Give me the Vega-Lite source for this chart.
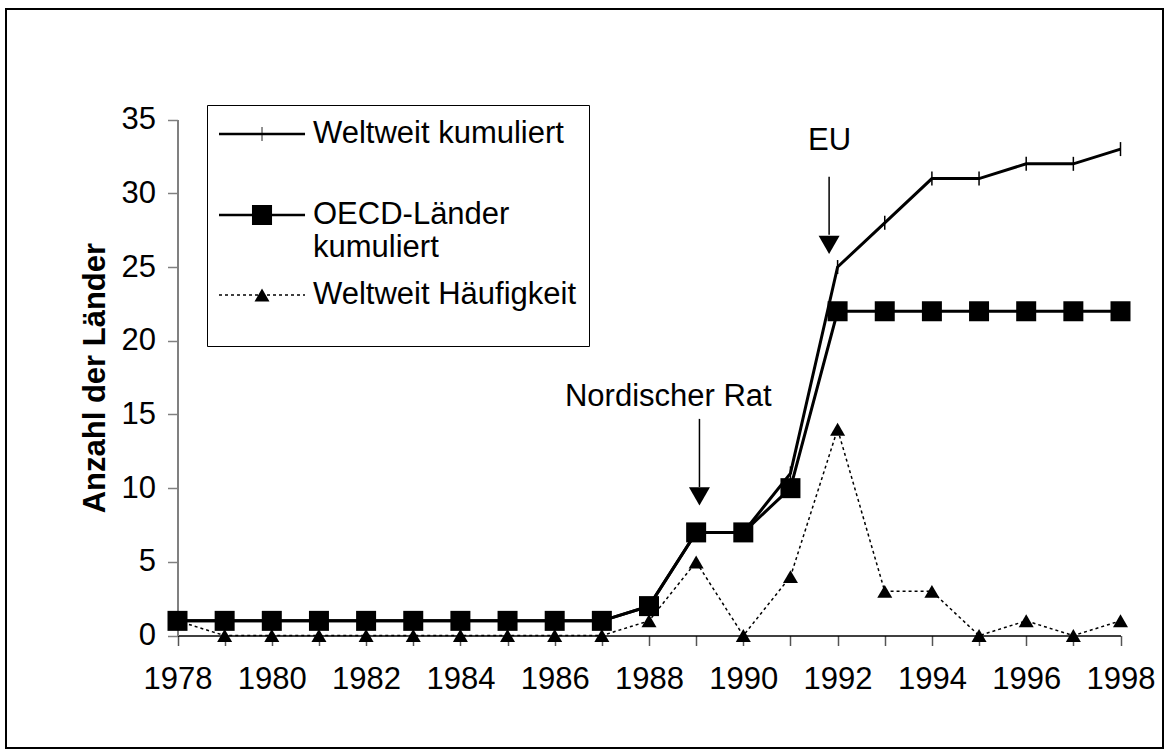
{
  "$schema": "https://vega.github.io/schema/vega-lite/v6.json",
  "width": 1157,
  "height": 739,
  "autosize": {"type": "none"},
  "padding": {"left": 6, "top": 9, "right": 1, "bottom": 1},
  "background": "white",
  "config": {
    "view": {"stroke": "black", "strokeWidth": 2},
    "font": "Liberation Sans",
    "text": {"font": "Liberation Sans"}
  },
  "datasets": {
    "main": [
      {"year": 1978, "series": "Weltweit kumuliert", "value": 1},
      {"year": 1979, "series": "Weltweit kumuliert", "value": 1},
      {"year": 1980, "series": "Weltweit kumuliert", "value": 1},
      {"year": 1981, "series": "Weltweit kumuliert", "value": 1},
      {"year": 1982, "series": "Weltweit kumuliert", "value": 1},
      {"year": 1983, "series": "Weltweit kumuliert", "value": 1},
      {"year": 1984, "series": "Weltweit kumuliert", "value": 1},
      {"year": 1985, "series": "Weltweit kumuliert", "value": 1},
      {"year": 1986, "series": "Weltweit kumuliert", "value": 1},
      {"year": 1987, "series": "Weltweit kumuliert", "value": 1},
      {"year": 1988, "series": "Weltweit kumuliert", "value": 2},
      {"year": 1989, "series": "Weltweit kumuliert", "value": 7},
      {"year": 1990, "series": "Weltweit kumuliert", "value": 7},
      {"year": 1991, "series": "Weltweit kumuliert", "value": 11},
      {"year": 1992, "series": "Weltweit kumuliert", "value": 25},
      {"year": 1993, "series": "Weltweit kumuliert", "value": 28},
      {"year": 1994, "series": "Weltweit kumuliert", "value": 31},
      {"year": 1995, "series": "Weltweit kumuliert", "value": 31},
      {"year": 1996, "series": "Weltweit kumuliert", "value": 32},
      {"year": 1997, "series": "Weltweit kumuliert", "value": 32},
      {"year": 1998, "series": "Weltweit kumuliert", "value": 33},
      {"year": 1978, "series": "OECD-Länder kumuliert", "value": 1},
      {"year": 1979, "series": "OECD-Länder kumuliert", "value": 1},
      {"year": 1980, "series": "OECD-Länder kumuliert", "value": 1},
      {"year": 1981, "series": "OECD-Länder kumuliert", "value": 1},
      {"year": 1982, "series": "OECD-Länder kumuliert", "value": 1},
      {"year": 1983, "series": "OECD-Länder kumuliert", "value": 1},
      {"year": 1984, "series": "OECD-Länder kumuliert", "value": 1},
      {"year": 1985, "series": "OECD-Länder kumuliert", "value": 1},
      {"year": 1986, "series": "OECD-Länder kumuliert", "value": 1},
      {"year": 1987, "series": "OECD-Länder kumuliert", "value": 1},
      {"year": 1988, "series": "OECD-Länder kumuliert", "value": 2},
      {"year": 1989, "series": "OECD-Länder kumuliert", "value": 7},
      {"year": 1990, "series": "OECD-Länder kumuliert", "value": 7},
      {"year": 1991, "series": "OECD-Länder kumuliert", "value": 10},
      {"year": 1992, "series": "OECD-Länder kumuliert", "value": 22},
      {"year": 1993, "series": "OECD-Länder kumuliert", "value": 22},
      {"year": 1994, "series": "OECD-Länder kumuliert", "value": 22},
      {"year": 1995, "series": "OECD-Länder kumuliert", "value": 22},
      {"year": 1996, "series": "OECD-Länder kumuliert", "value": 22},
      {"year": 1997, "series": "OECD-Länder kumuliert", "value": 22},
      {"year": 1998, "series": "OECD-Länder kumuliert", "value": 22},
      {"year": 1978, "series": "Weltweit Häufigkeit", "value": 1},
      {"year": 1979, "series": "Weltweit Häufigkeit", "value": 0},
      {"year": 1980, "series": "Weltweit Häufigkeit", "value": 0},
      {"year": 1981, "series": "Weltweit Häufigkeit", "value": 0},
      {"year": 1982, "series": "Weltweit Häufigkeit", "value": 0},
      {"year": 1983, "series": "Weltweit Häufigkeit", "value": 0},
      {"year": 1984, "series": "Weltweit Häufigkeit", "value": 0},
      {"year": 1985, "series": "Weltweit Häufigkeit", "value": 0},
      {"year": 1986, "series": "Weltweit Häufigkeit", "value": 0},
      {"year": 1987, "series": "Weltweit Häufigkeit", "value": 0},
      {"year": 1988, "series": "Weltweit Häufigkeit", "value": 1},
      {"year": 1989, "series": "Weltweit Häufigkeit", "value": 5},
      {"year": 1990, "series": "Weltweit Häufigkeit", "value": 0},
      {"year": 1991, "series": "Weltweit Häufigkeit", "value": 4},
      {"year": 1992, "series": "Weltweit Häufigkeit", "value": 14},
      {"year": 1993, "series": "Weltweit Häufigkeit", "value": 3},
      {"year": 1994, "series": "Weltweit Häufigkeit", "value": 3},
      {"year": 1995, "series": "Weltweit Häufigkeit", "value": 0},
      {"year": 1996, "series": "Weltweit Häufigkeit", "value": 1},
      {"year": 1997, "series": "Weltweit Häufigkeit", "value": 0},
      {"year": 1998, "series": "Weltweit Häufigkeit", "value": 1}
    ],
    "labels": [
      {"x": 1988.41, "y": 16.2, "label": "Nordischer Rat"},
      {"x": 1991.83, "y": 33.52, "label": "EU"}
    ],
    "arrows": [
      {"x": 1989.07, "y1": 14.7, "y2": 10.08, "head": 9.44},
      {"x": 1991.82, "y1": 31.13, "y2": 27.19, "head": 26.5}
    ]
  },
  "layer": [
    {
      "data": {"name": "main"},
      "transform": [{"filter": "datum.series == 'Weltweit Häufigkeit'"}],
      "mark": {"type": "line", "color": "black", "strokeWidth": 1.5, "strokeDash": [3, 3]},
      "encoding": {
        "x": {
          "field": "year", "type": "quantitative",
          "scale": {"domain": [1978, 1998], "range": [171.5, 1114.5], "nice": false, "zero": false},
          "axis": {
            "orient": "bottom", "offset": -112.5, "title": null, "grid": false,
            "values": [1978,1979,1980,1981,1982,1983,1984,1985,1986,1987,1988,1989,1990,1991,1992,1993,1994,1995,1996,1997,1998],
            "labelExpr": "datum.value % 2 == 0 ? '' + datum.value : ''",
            "domainColor": "black", "domainWidth": 1.5,
            "tickColor": "#555555", "tickWidth": 1.5, "tickSize": 10,
            "labelFontSize": 31, "labelPadding": 19, "labelColor": "black",
            "labelFlush": false, "labelOverlap": false, "labelFont": "Liberation Sans"
          }
        },
        "y": {
          "field": "value", "type": "quantitative",
          "scale": {"domain": [0, 35], "range": [626.6, 110.6], "nice": false, "zero": false},
          "axis": {
            "orient": "left", "offset": -171.5, "grid": false,
            "values": [0, 5, 10, 15, 20, 25, 30, 35],
            "title": "Anzahl der Länder", "titleFontSize": 31, "titleFontWeight": "bold",
            "titleColor": "black", "titlePadding": 10, "titleFont": "Liberation Sans",
            "domainColor": "#808080", "domainWidth": 2,
            "tickColor": "#808080", "tickWidth": 1.5, "tickSize": 10,
            "labelFontSize": 31, "labelPadding": 12, "labelColor": "black", "labelFont": "Liberation Sans"
          }
        }
      }
    },
    {
      "data": {"name": "main"},
      "transform": [{"filter": "datum.series == 'Weltweit Häufigkeit'"}],
      "mark": {"type": "point", "shape": "triangle-up", "filled": true, "color": "black", "size": 225, "opacity": 1},
      "encoding": {
        "x": {"field": "year", "type": "quantitative"},
        "y": {"field": "value", "type": "quantitative"}
      }
    },
    {
      "data": {"name": "main"},
      "transform": [{"filter": "datum.series == 'Weltweit kumuliert'"}],
      "mark": {"type": "line", "color": "black", "strokeWidth": 3},
      "encoding": {
        "x": {"field": "year", "type": "quantitative"},
        "y": {"field": "value", "type": "quantitative"}
      }
    },
    {
      "data": {"name": "main"},
      "transform": [{"filter": "datum.series == 'Weltweit kumuliert'"}],
      "mark": {"type": "point", "shape": "M0,-1V1", "filled": false, "stroke": "black", "strokeWidth": 1.5, "size": 196, "opacity": 1},
      "encoding": {
        "x": {"field": "year", "type": "quantitative"},
        "y": {"field": "value", "type": "quantitative"}
      }
    },
    {
      "data": {"name": "main"},
      "transform": [{"filter": "datum.series == 'OECD-Länder kumuliert'"}],
      "mark": {"type": "line", "color": "black", "strokeWidth": 3},
      "encoding": {
        "x": {"field": "year", "type": "quantitative"},
        "y": {"field": "value", "type": "quantitative"}
      }
    },
    {
      "data": {"name": "main"},
      "transform": [{"filter": "datum.series == 'OECD-Länder kumuliert'"}],
      "mark": {"type": "point", "shape": "square", "filled": true, "color": "black", "size": 400, "opacity": 1},
      "encoding": {
        "x": {"field": "year", "type": "quantitative"},
        "y": {"field": "value", "type": "quantitative"}
      }
    },
    {
      "data": {"name": "main"},
      "transform": [{"filter": "datum.year < 0"}],
      "mark": {"type": "point", "filled": true, "color": "black", "opacity": 1},
      "encoding": {
        "x": {"field": "year", "type": "quantitative"},
        "y": {"field": "value", "type": "quantitative"},
        "shape": {
          "field": "series", "type": "nominal",
          "scale": {
            "domain": ["Weltweit kumuliert", "OECD-Länder kumuliert", "Weltweit Häufigkeit"],
            "range": [
              "M-1,-0.08H4.06V0.08H-1ZM1.505,-0.41H1.555V0.41H1.505ZM0,2.88",
              "M-1,-0.08H4.06V0.08H-1ZM0.94,-0.59H2.12V0.59H0.94Z",
              "M-1,-0.05H-0.824V0.05H-1ZM-0.647,-0.05H-0.471V0.05H-0.647ZM-0.294,-0.05H-0.118V0.05H-0.294ZM0.059,-0.05H0.235V0.05H0.059ZM0.412,-0.05H0.588V0.05H0.412ZM0.765,-0.05H0.941V0.05H0.765ZM1.118,-0.05H1.294V0.05H1.118ZM1.824,-0.05H2V0.05H1.824ZM2.176,-0.05H2.353V0.05H2.176ZM2.529,-0.05H2.706V0.05H2.529ZM2.882,-0.05H3.059V0.05H2.882ZM3.235,-0.05H3.412V0.05H3.235ZM3.588,-0.05H3.765V0.05H3.588ZM3.941,-0.05H4.06V0.05H3.941ZM1.09,0.38L1.53,-0.38L1.97,0.38ZM0,2.24"
            ]
          },
          "legend": {
            "title": null,
            "orient": "none", "legendX": 201, "legendY": 96,
            "strokeColor": "black", "fillColor": "white", "padding": 12,
            "rowPadding": 15,
            "labelFontSize": 31, "labelFont": "Liberation Sans", "labelColor": "black",
            "labelLimit": 600, "labelOffset": 60,
            "symbolSize": 1156, "symbolStrokeWidth": 0,
            "symbolFillColor": "black", "symbolOpacity": 1,
            "labelExpr": "datum.label == 'OECD-Länder kumuliert' ? ['OECD-Länder', 'kumuliert'] : datum.label"
          }
        }
      }
    },
    {
      "data": {"name": "arrows"},
      "mark": {"type": "rule", "color": "black", "strokeWidth": 1.5},
      "encoding": {
        "x": {"field": "x", "type": "quantitative"},
        "y": {"field": "y1", "type": "quantitative"},
        "y2": {"field": "y2"}
      }
    },
    {
      "data": {"name": "arrows"},
      "mark": {"type": "point", "shape": "triangle-down", "filled": true, "color": "black", "size": 440, "opacity": 1},
      "encoding": {
        "x": {"field": "x", "type": "quantitative"},
        "y": {"field": "head", "type": "quantitative"}
      }
    },
    {
      "data": {"name": "labels"},
      "mark": {"type": "text", "font": "Liberation Sans", "fontSize": 31, "color": "black", "align": "center", "baseline": "middle"},
      "encoding": {
        "x": {"field": "x", "type": "quantitative"},
        "y": {"field": "y", "type": "quantitative"},
        "text": {"field": "label"}
      }
    }
  ]
}
